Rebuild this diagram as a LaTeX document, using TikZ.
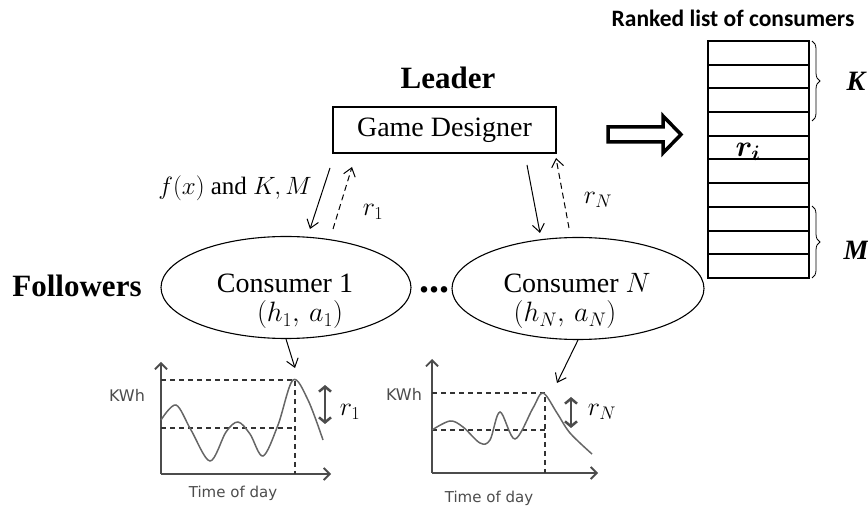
\RequirePackage{fix-cm}
\documentclass[tikz,border=0pt]{standalone}
\usepackage{amsmath,bm}
\usepackage{fontspec}
\setmainfont{Liberation Serif}
\newfontfamily\calfont{Carlito}
\newfontfamily\dvfont{DejaVu Sans}
\usetikzlibrary{arrows.meta,decorations.pathreplacing,shapes.geometric}
\newcommand\fsz[1]{\fontsize{#1}{#1}\selectfont}
\begin{document}
\begin{tikzpicture}[x=1pt,y=-1pt,
  ell/.style={draw,ellipse,line width=1.1pt,minimum height=102pt,inner sep=0pt},
  arr/.style={line width=1pt,-{Straight Barb[length=8pt,width=12pt]}},
  darr/.style={arr,dash pattern=on 6pt off 4pt},
  ax/.style={draw=black!70,line width=1.8pt,-{Straight Barb[length=6pt,width=12pt]}},
  dsh/.style={draw=black!80,line width=1.4pt,dash pattern=on 5pt off 4pt},
  crv/.style={draw=black!60,line width=1.5pt},
  dbl/.style={draw=black!70,line width=2.5pt,{Straight Barb[length=5pt,width=12pt]}-{Straight Barb[length=5pt,width=12pt]}},
  ctxt/.style={font=\dvfont\fsz{15},text=black!70,inner sep=0pt},
  brc/.style={decorate,decoration={brace,amplitude=8pt},line width=0.8pt},
  listline/.style={line width=2pt}
]
\useasboundingbox (0,0) rectangle (868,510);

% Leader and designer
\node[font=\bfseries\fsz{31},anchor=base,inner sep=0pt] (leader) at (448,89) {Leader};
\node[draw,line width=1.2pt,minimum width=223pt,minimum height=46pt,inner sep=0pt,font=\fsz{28}] (gd) at (444.5,130) {Game Designer};

% Ranked list
\node[font=\calfont\bfseries\fsz{23.5},inner sep=0pt] (rank) at (733,18) {Ranked list of consumers};
\node[draw,listline,minimum width=101pt,minimum height=237pt,inner sep=0pt] (list) at (758.5,159.5) {};
\foreach \i in {1,...,9} \draw[listline] (708,{41+\i*23.7}) -- (809,{41+\i*23.7});
\node[font=\fsz{30},inner sep=0pt] (ri) at (748,152) {$\bm{r_i}$};
\draw[brc] (812,41) -- (812,121);
\draw[brc] (812,206) -- (812,278);
\node[font=\bfseries\itshape\fsz{28},inner sep=0pt] (K) at (856,81) {K};
\node[font=\bfseries\itshape\fsz{28},inner sep=0pt] (M) at (856,250) {M};

% hollow arrow
\draw[line width=3.5pt,line join=miter] (608,127) -- (663,127) -- (663,116) -- (681,134.5) -- (663,153) -- (663,142) -- (608,142) -- cycle;

% consumers
\node[ell,minimum width=250pt] (c1) at (286,287.5) {};
\node[ell,minimum width=252pt] (cN) at (578,288.5) {};
\node[font=\fsz{28},inner sep=0pt] (c1t) at (285,283) {Consumer 1};
\node[font=\fsz{28},inner sep=0pt] (c1p) at (300,315) {$(h_1,\, a_1)$};
\node[font=\fsz{28},inner sep=0pt] (cNt) at (577,283) {Consumer $N$};
\node[font=\fsz{28},inner sep=0pt] (cNp) at (565,315) {$(h_N,\, a_N)$};
\node[font=\bfseries\fsz{40},anchor=base,inner sep=0pt] (dots) at (434,293) {...};
\node[font=\bfseries\fsz{31},anchor=base,inner sep=0pt] (fol) at (77,297) {Followers};

% leader-follower arrows
\coordinate (a1s) at (330,168); \coordinate (a1e) at (310,229);
\coordinate (b1s) at (333,229); \coordinate (b1e) at (352,167);
\coordinate (aNs) at (527,165); \coordinate (aNe) at (540,233);
\coordinate (bNs) at (569,228); \coordinate (bNe) at (556,158);
\draw[arr] (a1s) -- (a1e);
\draw[darr] (b1s) -- (b1e);
\draw[arr] (aNs) -- (aNe);
\draw[darr] (bNs) -- (bNe);
\node[font=\fsz{25},inner sep=0pt] (fx) at (235,188) {$f(x)$ and $K, M$};
\node[font=\fsz{26},inner sep=0pt] (r1) at (373,212) {$r_1$};
\node[font=\fsz{26},inner sep=0pt] (rN) at (598,200) {$r_N$};

% chart 1
\coordinate (o1) at (161,474);
\draw[ax] (o1) -- (161,362);
\draw[ax] (o1) -- (331,474);
\draw[dsh] (161,380) -- (295,380) -- (295,474);
\draw[dsh] (161,428) -- (295,428);
\draw[crv] plot[smooth,tension=0.55] coordinates {(161,420) (176,405) (191,430) (210,461) (226,432) (238,422) (250,434) (263,456) (278,425) (293,380) (308,400) (323,440)};
\draw[dbl] (325,385) -- (325,424);
\node[ctxt,font=\dvfont\fsz{16}] (kwh1) at (127,395) {KWh};
\node[ctxt] (tod1) at (233,493) {Time of day};
\node[font=\fsz{26},inner sep=0pt] (cr1) at (350,412) {$r_1$};
\coordinate (p1) at (295,368);
\draw[arr] (c1.south) -- (p1);

% chart 2
\coordinate (o2) at (432,473);
\draw[ax] (o2) -- (432,359);
\draw[ax] (o2) -- (598,473);
\draw[dsh] (432,393) -- (545,393) -- (545,473);
\draw[dsh] (432,430) -- (545,430);
\draw[crv] plot[smooth,tension=0.55] coordinates {(432,430) (450,421) (463,427) (480,443) (490,440) (500,412) (515,439) (533,408) (543,393) (557,413) (570,433) (592,454)};
\draw[dbl] (571,397) -- (571,428);
\node[ctxt,font=\dvfont\fsz{16}] (kwh2) at (404,394) {KWh};
\node[ctxt] (tod2) at (489,498) {Time of day};
\node[font=\fsz{26},inner sep=0pt] (crN) at (602,412) {$r_N$};
\coordinate (pN) at (557,383);
\draw[arr] (cN.south) -- (pN);
\end{tikzpicture}
\end{document}
